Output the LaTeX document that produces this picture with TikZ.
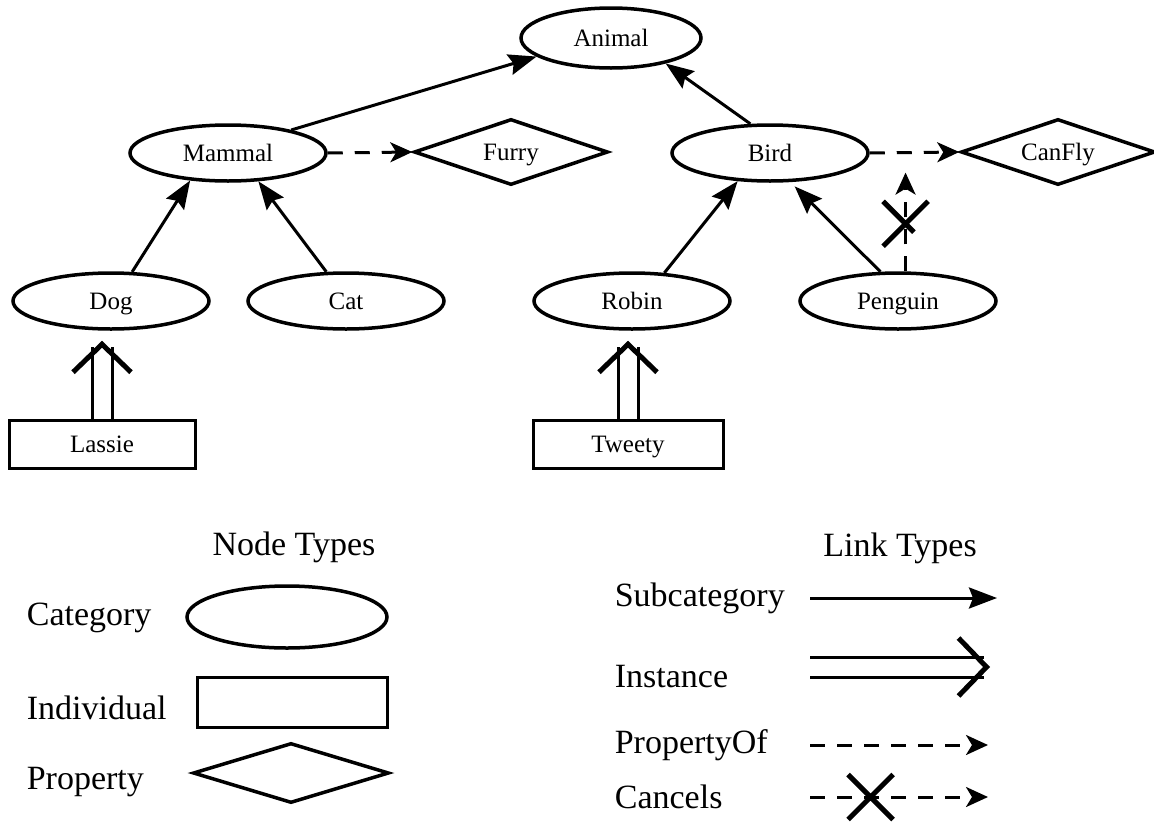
\documentclass[tikz,border=0pt]{standalone}
\usepackage{fontspec}
\setmainfont{Liberation Serif}
\usetikzlibrary{shapes.geometric,shapes.misc,arrows.meta,calc}

\begin{document}
\begin{tikzpicture}[x=1pt,y=-1pt,line width=3pt,
 cat/.style={ellipse,draw,line width=3.5pt,minimum width=196pt,minimum height=56pt,
  inner sep=0pt,text height=17pt,text depth=0pt,font=\fontsize{25}{27}\selectfont},
 ind/.style={rectangle,draw,line width=3pt,minimum width=186pt,minimum height=48pt,
  inner sep=0pt,text height=17pt,text depth=0pt,font=\fontsize{25}{27}\selectfont},
 prop/.style={diamond,aspect=3,draw,line width=3.5pt,minimum width=194pt,minimum height=66pt,
  inner sep=0pt,text height=17pt,text depth=0pt,font=\fontsize{25}{27}\selectfont},
 sub/.style={line width=3pt,-{Stealth[length=28pt,width=21pt,inset=4pt]}},
 inst/.style={double,double distance=17pt,line width=3pt,
  -{Straight Barb[length=28pt,width=58pt,line width=5pt]}},
 propof/.style={line width=3pt,dash pattern=on 15pt off 12pt,
  -{Stealth[length=22pt,width=20pt,inset=6pt]}},
 canx/.style={draw,cross out,solid,line width=5pt,minimum width=40pt,minimum height=40pt,inner sep=0pt},
 legend/.style={font=\fontsize{34}{38}\selectfont}]

\useasboundingbox (0,0) rectangle (1154,828);

\node[cat] (Animal) at (611,38) [minimum width=180pt,minimum height=60pt] {Animal};
\node[cat] (Mammal) at (228,153) {Mammal};
\node[cat] (Bird) at (770,153) {Bird};
\node[prop] (Furry) at (511,152) {Furry};
\node[prop] (CanFly) at (1058,152) {CanFly};
\node[cat] (Dog) at (111,301) {Dog};
\node[cat] (Cat) at (346,301) {Cat};
\node[cat] (Robin) at (632,301) {Robin};
\node[cat] (Penguin) at (898,301) {Penguin};
\node[ind] (Lassie) at (102,444) {Lassie};
\node[ind] (Tweety) at (628,444) [minimum width=190pt] {Tweety};

\draw[sub] (Mammal.20) -- (Animal.194);
\draw[sub] (Bird.124) -- (Animal.335);
\draw[sub] (Dog.54) -- (Mammal.216);
\draw[sub] (Cat.124) -- (Mammal.317);
\draw[sub] (Robin.41) -- (Bird.221);
\draw[sub,shorten >=6pt] (Penguin.121) -- (Bird.305);
\draw[propof] (Mammal.east) -- (Furry.west);
\draw[propof] (Bird.east) -- (CanFly.west);
\coordinate (flies) at ($(Bird.east)!0.4!(CanFly.west)$);
\draw[propof,shorten >=20pt] (Penguin.north -| flies) -- (flies)
 node[canx,pos=0.4] (penx) {};
\draw[inst,shorten >=10pt] (Lassie.north) -- (Lassie.north |- Dog.south);
\draw[inst,shorten >=10pt] (Tweety.north) -- (Tweety.north |- Robin.south);

\node[legend] (nodetypes) at (294,547) {Node Types};
\node[legend,anchor=west] (category) at (22,618) {Category};
\node[legend,anchor=west] (individual) at (22,708) {Individual};
\node[legend,anchor=west] (property) at (22,782) {Property};
\node[cat,minimum width=200pt,minimum height=62pt] (catkey) at (287,617) {};
\node[ind,minimum width=190pt,minimum height=50pt] (indkey) at (292,702) {};
\node[prop,minimum width=196pt,minimum height=60pt] (propkey) at (291,773) {};

\node[legend] (linktypes) at (900,548) {Link Types};
\node[legend,anchor=west] (subcat) at (610,598) {Subcategory};
\node[legend,anchor=west] (instance) at (610,677) {Instance};
\node[legend,anchor=west] (propertyof) at (610,745) {PropertyOf};
\node[legend,anchor=west] (cancels) at (610,797) {Cancels};
\coordinate (subA) at (810,598);   \coordinate (subB) at (997,598);
\coordinate (instA) at (810,667);  \coordinate (instB) at (990,667);
\coordinate (propA) at (810,745);  \coordinate (propB) at (988,745);
\coordinate (canA) at (810,797);   \coordinate (canB) at (988,797);
\draw[sub] (subA) -- (subB);
\draw[inst] (instA) -- (instB);
\draw[propof] (propA) -- (propB);
\draw[propof] (canA) -- (canB) node[canx,pos=0.34] (keyx) {};
\end{tikzpicture}
\end{document}
